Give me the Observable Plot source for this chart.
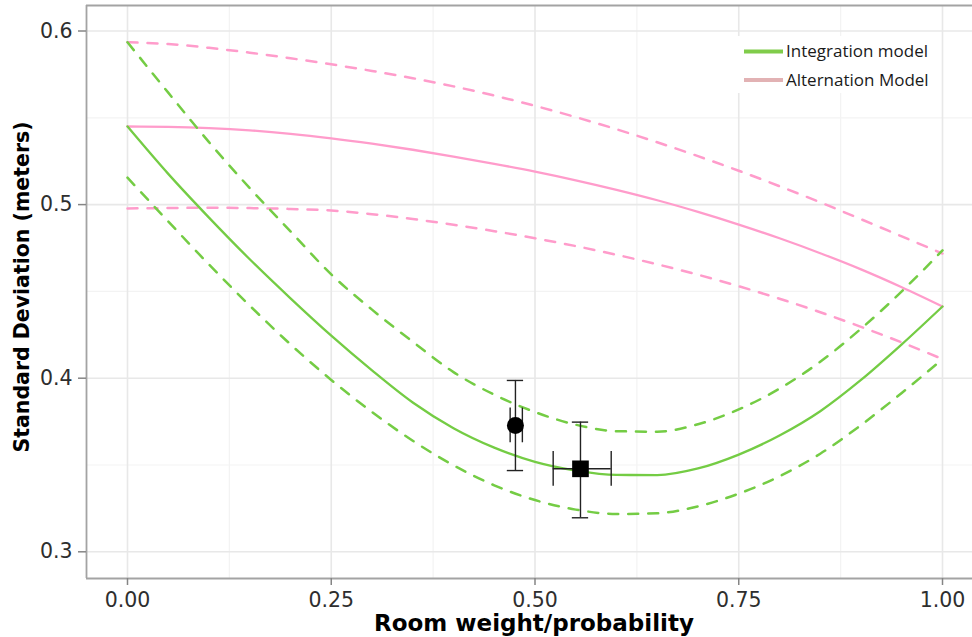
<!DOCTYPE html>
<html>
<head>
<meta charset="utf-8">
<script src="https://cdn.jsdelivr.net/npm/d3@7"></script>
<script src="https://cdn.jsdelivr.net/npm/@observablehq/plot@0.6"></script>
<style>
  html, body { margin: 0; padding: 0; background: #ffffff; }
  #chart svg { display: block; }
</style>
</head>
<body>
<div id="chart"></div>
<script>
// ---- data ----
const xGrid = [0, 0.05, 0.10, 0.15, 0.20, 0.25, 0.30, 0.35, 0.40, 0.45, 0.50,
               0.55, 0.60, 0.65, 0.70, 0.75, 0.80, 0.85, 0.90, 0.95, 1.00];

const integrationMean  = [0.5450, 0.5177, 0.4925, 0.4685, 0.4460, 0.4245, 0.4045, 0.3860, 0.3712, 0.3600, 0.3518,
                          0.3468, 0.3443, 0.3442, 0.3480, 0.3560, 0.3670, 0.3810, 0.3990, 0.4195, 0.4413];
const integrationUpper = [0.5935, 0.5645, 0.5360, 0.5095, 0.4846, 0.4598, 0.4395, 0.4210, 0.4035, 0.3905, 0.3805,
                          0.3732, 0.3695, 0.3692, 0.3735, 0.3820, 0.3940, 0.4095, 0.4285, 0.4500, 0.4736];
const integrationLower = [0.5155, 0.4903, 0.4655, 0.4418, 0.4195, 0.3990, 0.3805, 0.3640, 0.3498, 0.3383, 0.3298,
                          0.3243, 0.3218, 0.3222, 0.3262, 0.3335, 0.3435, 0.3565, 0.3730, 0.3915, 0.4110];

const alternationMean  = [0.5450, 0.5448, 0.5441, 0.5428, 0.5408, 0.5382, 0.5351, 0.5316, 0.5277, 0.5235, 0.5190,
                          0.5140, 0.5085, 0.5025, 0.4958, 0.4885, 0.4806, 0.4720, 0.4627, 0.4524, 0.4413];
const alternationUpper = [0.5935, 0.5925, 0.5903, 0.5875, 0.5843, 0.5808, 0.5770, 0.5728, 0.5681, 0.5628, 0.5569,
                          0.5504, 0.5434, 0.5359, 0.5279, 0.5195, 0.5106, 0.5013, 0.4916, 0.4817, 0.4718];
const alternationLower = [0.4978, 0.4980, 0.4982, 0.4980, 0.4975, 0.4966, 0.4945, 0.4917, 0.4884, 0.4847, 0.4806,
                          0.4761, 0.4711, 0.4656, 0.4596, 0.4530, 0.4458, 0.4380, 0.4296, 0.4206, 0.4110];

const pointShape = ["circle", "square"];
const pointX     = [0.476, 0.5558];
const pointY     = [0.3728, 0.3478];
const pointXLow  = [0.4695, 0.5223];
const pointXHigh = [0.4845, 0.5935];
const pointYLow  = [0.3468, 0.3196];
const pointYHigh = [0.3987, 0.3747];
const capHalf = 0.01;

const xTicks = [0, 0.25, 0.5, 0.75, 1];
const xTickLabels = ["0.00", "0.25", "0.50", "0.75", "1.00"];
const xMinor = [0.125, 0.375, 0.625, 0.875];
const yTicks = [0.3, 0.4, 0.5, 0.6];
const yTickLabels = ["0.3", "0.4", "0.5", "0.6"];
const yMinor = [0.35, 0.45, 0.55];

const xTitle = "Room weight/probability";
const yTitle = "Standard Deviation (meters)";
const legendLabels = ["Integration model", "Alternation Model"];

const green = "#74cc44";
const pink = "#ff9ccb";
const legendColors = ["#80cc4a", "#e2b2b4"];

const xDomain = [-0.0503, 1.0368];
const yDomain = [0.28462, 0.61469];

// ---- build tables ----
const series = (arr) => xGrid.map((x, i) => ({x, y: arr[i]}));
const pts = pointShape.map((s, i) => ({
  shape: s, x: pointX[i], y: pointY[i],
  xlo: pointXLow[i], xhi: pointXHigh[i], ylo: pointYLow[i], yhi: pointYHigh[i]
}));

const dash = "10,10";
const chart = Plot.plot({
  width: 972,
  height: 637,
  marginLeft: 86,
  marginRight: 0,
  marginTop: 5,
  marginBottom: 59,
  style: {background: "#ffffff", fontFamily: "DejaVu Sans", fontSize: "20px"},
  x: {domain: xDomain},
  y: {domain: yDomain},
  marks: [
    Plot.ruleX(xMinor, {stroke: "#f3f3f3", strokeWidth: 1.2}),
    Plot.ruleY(yMinor, {stroke: "#f3f3f3", strokeWidth: 1.2}),
    Plot.ruleX(xTicks, {stroke: "#e8e8e8", strokeWidth: 1.6}),
    Plot.ruleY(yTicks, {stroke: "#e8e8e8", strokeWidth: 1.6}),

    Plot.line(series(alternationUpper), {x: "x", y: "y", stroke: pink, strokeWidth: 2.5, strokeDasharray: dash, curve: "monotone-x"}),
    Plot.line(series(alternationLower), {x: "x", y: "y", stroke: pink, strokeWidth: 2.5, strokeDasharray: dash, curve: "monotone-x"}),
    Plot.line(series(alternationMean), {x: "x", y: "y", stroke: pink, strokeWidth: 2.3, curve: "monotone-x"}),
    Plot.line(series(integrationUpper), {x: "x", y: "y", stroke: green, strokeWidth: 2.5, strokeDasharray: dash, curve: "monotone-x"}),
    Plot.line(series(integrationLower), {x: "x", y: "y", stroke: green, strokeWidth: 2.5, strokeDasharray: dash, curve: "monotone-x"}),
    Plot.line(series(integrationMean), {x: "x", y: "y", stroke: green, strokeWidth: 2.3, curve: "monotone-x"}),

    // error bars
    Plot.ruleX(pts, {x: "x", y1: "ylo", y2: "yhi", stroke: "#222", strokeWidth: 1.4}),
    Plot.ruleY(pts, {y: "ylo", x1: d => d.x - capHalf, x2: d => d.x + capHalf, stroke: "#222", strokeWidth: 1.4}),
    Plot.ruleY(pts, {y: "yhi", x1: d => d.x - capHalf, x2: d => d.x + capHalf, stroke: "#222", strokeWidth: 1.4}),
    Plot.ruleY(pts, {y: "y", x1: "xlo", x2: "xhi", stroke: "#222", strokeWidth: 1.4}),
    Plot.ruleX(pts, {x: "xlo", y1: d => d.y - capHalf, y2: d => d.y + capHalf, stroke: "#222", strokeWidth: 1.4}),
    Plot.ruleX(pts, {x: "xhi", y1: d => d.y - capHalf, y2: d => d.y + capHalf, stroke: "#222", strokeWidth: 1.4}),
    Plot.dot(pts.filter(d => d.shape === "circle"), {x: "x", y: "y", r: 8.5, fill: "#000", symbol: "circle"}),
    Plot.dot(pts.filter(d => d.shape === "square"), {x: "x", y: "y", r: 9.4, fill: "#000", symbol: "square"}),

    // panel border (right side is cropped in the reference)
    Plot.ruleY([yDomain[1]], {stroke: "#a3a3a3", strokeWidth: 1.8}),
    Plot.ruleY([yDomain[0]], {stroke: "#a3a3a3", strokeWidth: 1.8}),
    Plot.ruleX([xDomain[0]], {stroke: "#a3a3a3", strokeWidth: 1.8}),

    Plot.axisX(xTicks, {
      tickFormat: d => xTickLabels[xTicks.indexOf(d)],
      tickSize: 7, tickPadding: 7, label: null,
      color: "#2e2e2e", stroke: "#858585", strokeWidth: 1.5, fontSize: 20.5
    }),
    Plot.axisY(yTicks, {
      tickFormat: d => yTickLabels[yTicks.indexOf(d)],
      tickSize: 8, tickPadding: 6, label: null,
      color: "#2e2e2e", stroke: "#858585", strokeWidth: 1.5, fontSize: 20.5
    })
  ]
});

document.getElementById("chart").appendChild(chart);

// ---- titles and legend ----
const svg = d3.select(chart);
svg.append("text")
  .attr("x", 534).attr("y", 631)
  .attr("text-anchor", "middle")
  .attr("font-family", "DejaVu Sans").attr("font-weight", "bold")
  .attr("font-size", 23).attr("fill", "#000")
  .text(xTitle);
svg.append("text")
  .attr("transform", "translate(28.5,287) rotate(-90)")
  .attr("text-anchor", "middle")
  .attr("font-family", "DejaVu Sans").attr("font-weight", "bold")
  .attr("font-size", 20.5).attr("fill", "#000")
  .text(yTitle);

const lg = svg.append("g").attr("text-anchor", "start");
lg.append("rect").attr("x", 737).attr("y", 36).attr("width", 193).attr("height", 57).attr("fill", "#ffffff");
const lgY = [51.5, 80];
legendLabels.forEach((lab, i) => {
  lg.append("line").attr("x1", 744).attr("x2", 783).attr("y1", lgY[i]).attr("y2", lgY[i])
    .attr("stroke", legendColors[i]).attr("stroke-width", 4);
  lg.append("text").attr("x", 786).attr("y", lgY[i] + 5.5)
    .attr("text-anchor", "start")
    .attr("font-family", "Open Sans").attr("font-size", 17).attr("fill", "#1a1a1a")
    .text(lab);
});
</script>
</body>
</html>
